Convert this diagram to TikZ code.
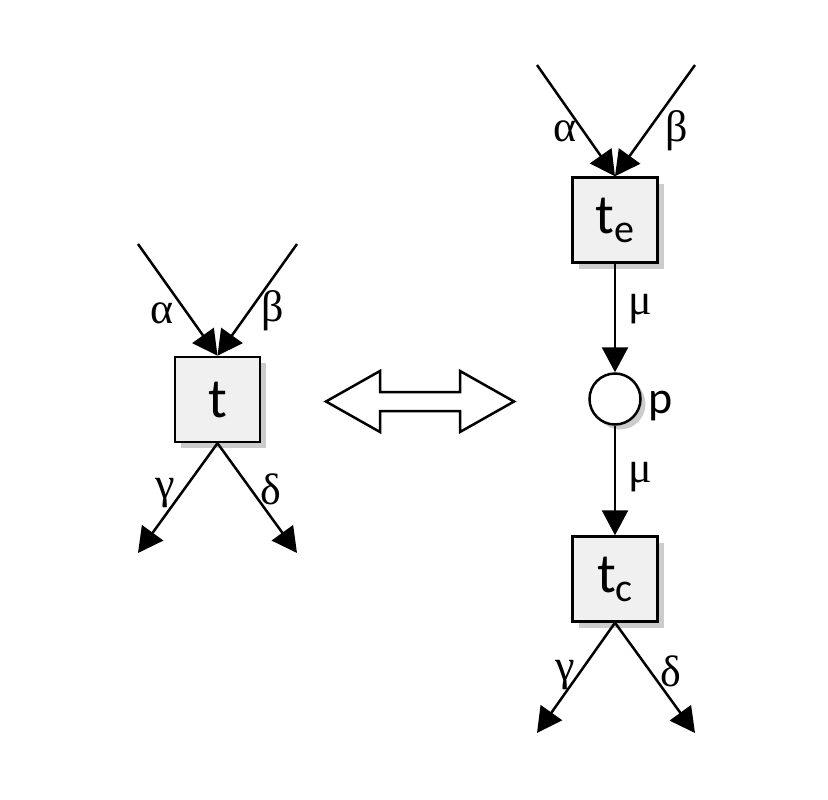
\documentclass[tikz,border=0pt]{standalone}
\usepackage{fontspec}
\setmainfont{Carlito}
\newfontfamily\grk{Liberation Serif}
\usetikzlibrary{arrows.meta,shadows}
\begin{document}
\begin{tikzpicture}[x=1pt,y=-1pt,
  trans/.style={draw,line width=2.5pt,fill=black!6,minimum size=85pt,inner sep=0pt,
    font=\fontsize{56}{56}\selectfont,
    drop shadow={shadow xshift=6pt,shadow yshift=-6pt,fill=black!20,opacity=1}},
  place/.style={circle,draw,line width=2.5pt,fill=white,minimum size=51pt,inner sep=0pt,
    drop shadow={shadow xshift=5pt,shadow yshift=-5pt,fill=black!20,opacity=1}},
  arc/.style={line width=2.5pt,-{Triangle[length=25pt,width=26pt]}},
  lbl/.style={font=\grk\fontsize{44}{44}\selectfont,inner sep=0pt},
  plbl/.style={font=\fontsize{46}{46}\selectfont,inner sep=0pt}]
\useasboundingbox (0,0) rectangle (828,800);
% left
\node[trans] (t) at (217.5,399.5) {t};
\coordinate (la) at (138,244);
\coordinate (lb) at (297,244);
\coordinate (lg) at (138,553);
\coordinate (ld) at (297,553);
\draw[arc] (la) -- (t.north);
\draw[arc] (lb) -- (t.north);
\draw[arc] (t.south) -- (lg);
\draw[arc] (t.south) -- (ld);
\node[lbl] (lal) at (162,313) {α};
\node[lbl] (lbl) at (273,311) {β};
\node[lbl] (lgl) at (165,493) {γ};
\node[lbl] (ldl) at (271,489) {δ};
% double arrow
\draw[line width=2.5pt,line join=miter,fill=white] (326,401.5) -- (380,371) -- (380,392) -- (460,392) -- (460,371)
  -- (514,401.5) -- (460,432) -- (460,411) -- (380,411) -- (380,432) -- cycle;
% right
\node[trans] (te) at (615,220) {t\raisebox{-9pt}{\fontsize{40}{40}\selectfont e}};
\node[place] (p) at (615,399) {};
\node[trans] (tc) at (615,579) {t\raisebox{-9pt}{\fontsize{40}{40}\selectfont c}};
\coordinate (ra) at (537,65);
\coordinate (rb) at (695,65);
\coordinate (rg) at (537,733);
\coordinate (rd) at (695,733);
\draw[arc] (ra) -- (te.north);
\draw[arc] (rb) -- (te.north);
\draw[arc] (te.south) -- (p.north);
\draw[arc] (p.south) -- (tc.north);
\draw[arc] (tc.south) -- (rg);
\draw[arc] (tc.south) -- (rd);
\node[lbl] (ral) at (565,131) {α};
\node[lbl] (rbl) at (677,131) {β};
\node[lbl] (rm1) at (640,309) {μ};
\node[lbl] (rm2) at (640,477) {μ};
\node[lbl] (rgl) at (565,675) {γ};
\node[lbl] (rdl) at (671,671) {δ};
\node[plbl] (pl) at (661,406) {p};
\end{tikzpicture}
\end{document}
